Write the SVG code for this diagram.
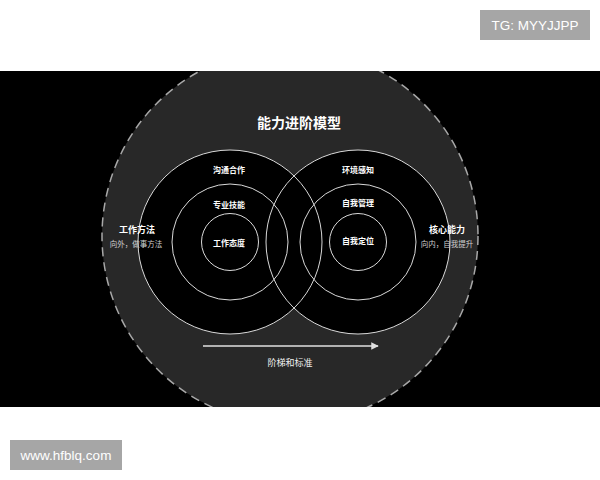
<svg xmlns="http://www.w3.org/2000/svg" width="600" height="480" viewBox="0 0 600 480">
  <defs>
    <style>
      .ring { fill: none; stroke: #d9d9d9; stroke-width: 1; }
      .cjk { font-family: "Noto Sans CJK SC", "Noto Sans", sans-serif; text-anchor: middle; dominant-baseline: central; fill: #ffffff; }
      .lbl { font-size: 8px; font-weight: bold; }
      .side { font-size: 9px; font-weight: bold; }
      .axis { font-size: 9px; font-weight: normal; fill: #f0f0f0; }
      .sub { font-size: 7.5px; fill: #d0d0d0; }
      .wm { font-family: "Liberation Sans", Arial, sans-serif; font-size: 13.5px; fill: #ffffff; text-anchor: middle; dominant-baseline: central; }
    </style>
    <marker id="ah" viewBox="0 0 10 10" refX="9" refY="5" markerWidth="5" markerHeight="5" orient="auto" markerUnits="strokeWidth">
      <path d="M0,0 L10,5 L0,10 z" fill="#e0e0e0"/>
    </marker>
    <clipPath id="band"><rect x="0" y="71" width="600" height="336"/></clipPath>
  </defs>

  <rect x="0" y="0" width="600" height="480" fill="#ffffff"/>
  <rect x="0" y="71" width="600" height="336" fill="#000000"/>

  <g id="background" clip-path="url(#band)">
    <circle cx="290" cy="236" r="188" fill="#282828" stroke="#a8a8a8" stroke-width="1.5" stroke-dasharray="9 6"/>
  </g>

  <text class="cjk" x="299" y="122" font-size="14" font-weight="bold">能力进阶模型</text>

  <g id="left-circles">
    <circle cx="230" cy="242" r="92" fill="#000000"/>
  </g>
  <g id="right-circles">
    <circle cx="358" cy="242" r="92" fill="#000000"/>
  </g>

  <g id="rings">
    <circle class="ring" cx="230" cy="242" r="92"/>
    <circle class="ring" cx="230" cy="242" r="58"/>
    <circle class="ring" cx="230" cy="242" r="28.5"/>
    <circle class="ring" cx="358" cy="242" r="92"/>
    <circle class="ring" cx="358" cy="242" r="58"/>
    <circle class="ring" cx="358" cy="242" r="28.5"/>
  </g>

  <g id="node-goutong"><text class="cjk lbl" x="229" y="169">沟通合作</text></g>
  <g id="node-zhuanye"><text class="cjk lbl" x="229" y="204">专业技能</text></g>
  <g id="node-taidu"><text class="cjk lbl" x="229" y="242">工作态度</text></g>
  <g id="node-huanjing"><text class="cjk lbl" x="358" y="169">环境感知</text></g>
  <g id="node-guanli"><text class="cjk lbl" x="358" y="202">自我管理</text></g>
  <g id="node-dingwei"><text class="cjk lbl" x="358" y="240">自我定位</text></g>

  <g id="node-fangfa">
    <text class="cjk side" x="137" y="229">工作方法</text>
    <text class="cjk sub" x="136" y="243">向外，做事方法</text>
  </g>
  <g id="node-hexin">
    <text class="cjk side" x="447" y="229">核心能力</text>
    <text class="cjk sub" x="447" y="243">向内，自我提升</text>
  </g>

  <g id="connectors">
    <line x1="203" y1="346" x2="378" y2="346" stroke="#e0e0e0" stroke-width="1.5" marker-end="url(#ah)"/>
  </g>
  <g id="node-jieti"><text class="cjk axis" x="290" y="362">阶梯和标准</text></g>

  <g id="watermark-top">
    <rect x="480" y="10" width="110" height="30" fill="#a6a6a6"/>
    <text class="wm" x="535" y="25">TG: MYYJJPP</text>
  </g>
  <g id="watermark-bottom">
    <rect x="10" y="440" width="112" height="30" fill="#a6a6a6"/>
    <text class="wm" x="66" y="455">www.hfblq.com</text>
  </g>
</svg>
